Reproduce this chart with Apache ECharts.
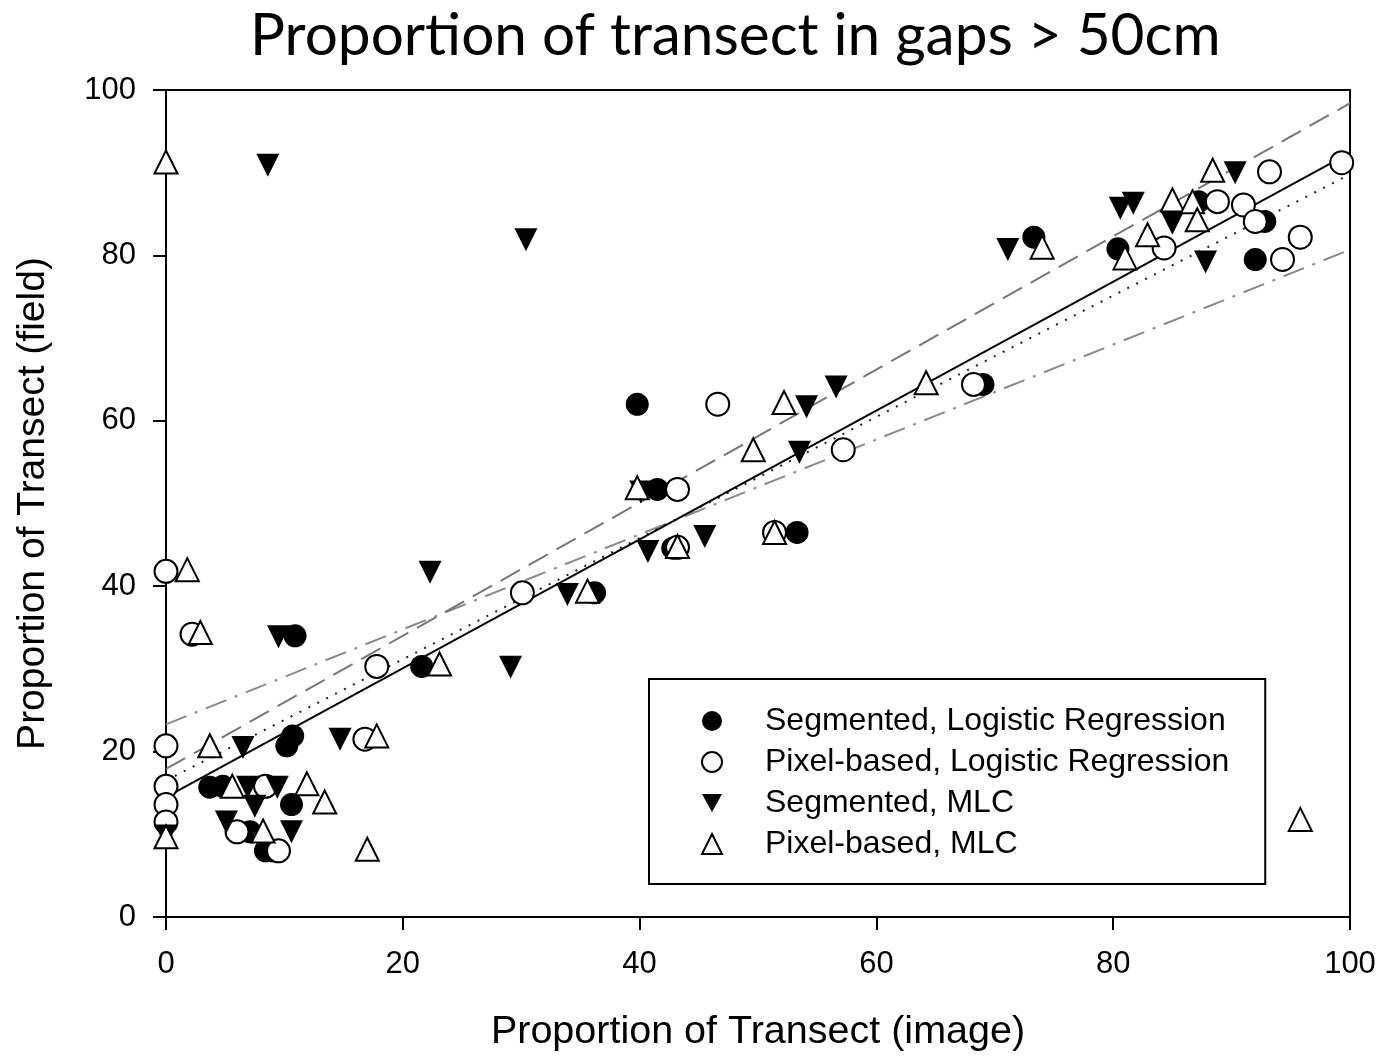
<!DOCTYPE html>
<html>
<head>
<meta charset="utf-8">
<script src="https://cdn.jsdelivr.net/npm/echarts@6/dist/echarts.min.js"></script>
<style>html,body{margin:0;padding:0;background:#fff}#c{width:1382px;height:1057px}</style>
</head>
<body>
<div id="c"></div>
<script>
var titleText = 'Proportion of transect in gaps > 50cm';
var xName = 'Proportion of Transect (image)';
var yName = 'Proportion of Transect (field)';
var seriesNames = ['Segmented, Logistic Regression', 'Pixel-based, Logistic Regression', 'Segmented, MLC', 'Pixel-based, MLC'];

var segLR = [[73.3,82.2],[80.4,80.8],[87.2,86.5],[92.8,84.1],[92.0,79.5],[69.0,64.4],[39.8,62.0],[41.5,51.7],[53.3,46.5],[42.8,44.6],[36.2,39.2],[21.6,30.3],[10.9,34.0],[10.7,21.9],[10.2,20.7],[3.7,15.7],[4.8,15.8],[10.6,13.6],[7.1,10.3],[8.4,8.0],[9.0,8.0]];
var pixLR = [[99.3,91.2],[93.2,90.1],[88.8,86.5],[91.0,86.1],[92.0,84.1],[95.8,82.2],[94.3,79.5],[84.3,80.9],[68.2,64.4],[46.6,62.0],[57.2,56.5],[43.2,51.7],[51.4,46.5],[43.2,44.7],[30.1,39.2],[17.8,30.3],[16.8,21.5],[0,41.8],[2.2,34.2],[0,20.7],[0,15.8],[0,13.6],[0,11.5],[8.4,15.8],[6.0,10.3],[9.5,8.0]];
var segMLC = [[8.6,90.9],[30.4,81.9],[71.1,80.7],[80.6,85.7],[81.7,86.3],[85.0,83.9],[90.3,90.0],[87.8,79.2],[56.6,64.1],[54.1,61.7],[53.5,56.2],[40.1,51.4],[45.5,46.0],[40.7,44.2],[22.3,41.7],[33.9,39.0],[29.1,30.2],[9.5,33.9],[6.5,20.5],[14.7,21.5],[6.9,15.7],[9.4,15.7],[7.5,13.4],[5.1,11.5],[10.6,10.3],[0,9.8]];
var pixMLC = [[0,91.3],[95.8,11.8],[88.4,90.3],[85.0,86.7],[86.7,86.5],[87.1,84.3],[82.9,82.5],[74.0,81.0],[81.0,79.7],[64.2,64.6],[52.2,62.2],[49.6,56.5],[39.8,51.9],[51.4,46.5],[43.2,44.8],[35.6,39.4],[23.1,30.6],[17.8,21.9],[1.8,42.0],[2.9,34.4],[3.7,20.7],[5.6,15.8],[11.9,16.1],[13.4,13.9],[8.2,10.4],[17.0,8.2],[0,9.7]];

var fitSolid = [[0,14.5],[100,92.4]];
var fitDashed = [[0,17.9],[100,98.4]];
var fitDotted = [[0,16.5],[100,89.8]];
var fitDashDot = [[0,23.3],[100,80.7]];

var axisMin = 0, axisMax = 100, axisStep = 20;

var FONT = 'Liberation Sans, Arial, sans-serif';
var DOWN_TRI = 'path://M0,0 L20,0 L10,18 Z';
var chart = echarts.init(document.getElementById('c'), null, {renderer:'canvas'});

function lineSeries(data, color, type) {
  return {type:'line', data:data, symbol:'none', silent:true, z:1,
    lineStyle:{color:color, width:2, type:type}, animation:false};
}
function scatter(name, data, symbol, filled, rotate, size) {
  return {type:'scatter', name:name, data:data, symbol:symbol, symbolSize:size, symbolRotate:rotate, clip:false, z:3,
    itemStyle:{color: filled ? '#000' : '#fff', borderColor:'#000', borderWidth: filled ? 0 : 2, opacity:1},
    animation:false};
}

chart.setOption({
  backgroundColor:'#fff',
  animation:false,
  title:{text:titleText, left:245, top:2, textStyle:{fontFamily:'Lato, Open Sans, sans-serif', fontWeight:'normal', fontSize:58.5, color:'#000'}},
  grid:{left:166, right:32, top:90, bottom:139, show:true, borderColor:'#000', borderWidth:2},
  legend:{data:[
      {name:seriesNames[0], icon:'circle'},
      {name:seriesNames[1], icon:'circle'},
      {name:seriesNames[2], icon:DOWN_TRI},
      {name:seriesNames[3], icon:'triangle'}
    ], orient:'vertical', left:649, top:679,
    backgroundColor:'#fff', borderColor:'#000', borderWidth:2,
    padding:[26, 36, 24, 52], itemGap:9, itemWidth:20, itemHeight:20,
    textStyle:{fontFamily:FONT, fontSize:32, color:'#000', padding:[0,0,0,38], lineHeight:30}},
  xAxis:{type:'value', min:axisMin, max:axisMax, interval:axisStep,
    name:xName, nameLocation:'middle', nameGap:95,
    nameTextStyle:{fontFamily:FONT, fontSize:39.5, color:'#000'},
    axisLine:{show:true, lineStyle:{color:'#000', width:2}},
    axisTick:{show:true, inside:false, length:13, lineStyle:{color:'#000', width:2}},
    axisLabel:{fontFamily:FONT, fontSize:31, color:'#000', margin:32},
    splitLine:{show:false}},
  yAxis:{type:'value', min:axisMin, max:axisMax, interval:axisStep,
    name:yName, nameLocation:'middle', nameGap:113,
    nameTextStyle:{fontFamily:FONT, fontSize:39, color:'#000'},
    axisLine:{show:true, lineStyle:{color:'#000', width:2}},
    axisTick:{show:true, inside:false, length:13, lineStyle:{color:'#000', width:2}},
    axisLabel:{fontFamily:FONT, fontSize:31, color:'#000', margin:30},
    splitLine:{show:false}},
  series:[
    lineSeries(fitDashDot, '#8a8a8a', [22,9,3,9]),
    lineSeries(fitDashed, '#777', [22,10]),
    lineSeries(fitDotted, '#222', [2,8]),
    lineSeries(fitSolid, '#000', 'solid'),
    scatter(seriesNames[0], segLR, 'circle', true, 0, 23),
    scatter(seriesNames[1], pixLR, 'circle', false, 0, 23),
    scatter(seriesNames[2], segMLC, 'triangle', true, 180, 23),
    scatter(seriesNames[3], pixMLC, 'triangle', false, 0, 23)
  ]
});
</script>
</body>
</html>
